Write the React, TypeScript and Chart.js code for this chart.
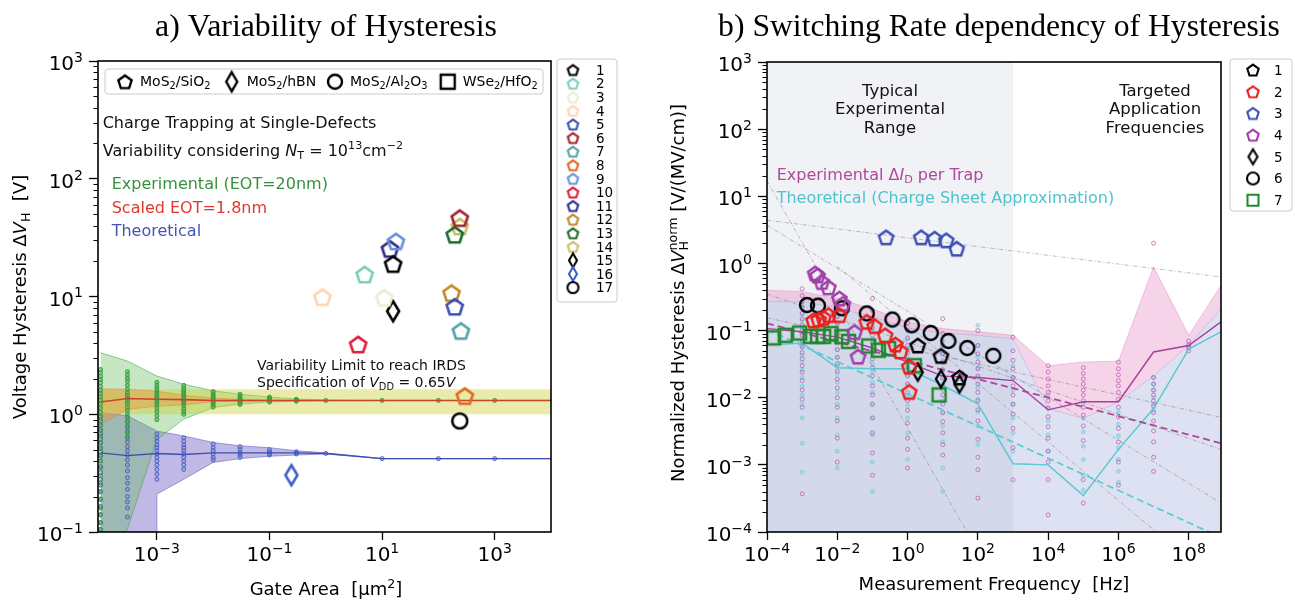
import React, { useEffect, useRef } from 'react';
import { Chart, registerables } from 'chart.js';

Chart.register(...registerables);

const SANS = '"DejaVu Sans", Verdana, sans-serif';
const SERIF = '"Liberation Serif", "DejaVu Serif", serif';

// ---------------- panel a: hysteresis vs. gate area ----------------
const areaTicks = [1e-3, 1e-1, 10, 1000];
const hystTicks = [0.1, 1, 10, 100, 1000];

const gateAreas = [1e-4, 3e-4, 1e-3, 3e-3, 1e-2, 3e-2, 1e-1, 3e-1, 1, 10, 100, 1000, 1e4];
const expUpperA = [3.33, 2.83, 2.11, 1.8, 1.58, 1.48, 1.4, 1.35, 1.32, 1.31, 1.31, 1.31, 1.31];
const expLowerA = [0.05, 0.106, 0.61, 0.91, 1.14, 1.22, 1.27, 1.29, 1.3, 1.31, 1.31, 1.31, 1.31];
const scaledMedian = [1.27, 1.36, 1.34, 1.33, 1.31, 1.31, 1.31, 1.31, 1.31, 1.31, 1.31, 1.31, 1.31];
const scaledUpper = [1.65, 1.63, 1.57, 1.45, 1.37, 1.34, 1.32, 1.31, 1.31, 1.31, 1.31, 1.31, 1.31];
const scaledLower = [0.82, 1.1, 1.17, 1.2, 1.28, 1.29, 1.3, 1.31, 1.31, 1.31, 1.31, 1.31, 1.31];
const theoMedianA = [0.47, 0.445, 0.464, 0.455, 0.47, 0.47, 0.47, 0.47, 0.464, 0.42, 0.42, 0.42, 0.42];
const theoUpperA = [1.03, 0.97, 0.72, 0.655, 0.575, 0.54, 0.52, 0.49, 0.47, 0.42, 0.42, 0.42, 0.42];
// the lower theoretical edge leaves the axis below 1e-3 µm²
const theoLowerAreas = [1e-4, 3e-4, 1e-3, 1e-3, 3e-3, 1e-2, 3e-2, 1e-1, 3e-1, 1, 10, 100, 1000, 1e4];
const theoLowerA = [0.01, 0.01, 0.01, 0.21, 0.28, 0.39, 0.42, 0.44, 0.45, 0.46, 0.42, 0.42, 0.42, 0.42];
// IRDS variability limit (V_DD = 0.65 V)
const irdsAreas = [9e-5, 1e4];
const irdsLow = [1.0, 1.0];
const irdsHigh = [1.63, 1.63];

const dotAreas = [1e-4, 3e-4, 1e-3, 3e-3, 1e-2, 3e-2, 1e-1, 3e-1, 1, 10, 100, 1000];
const expDotsA = [
  [2.4, 2.25, 2.1, 1.97, 1.85, 1.72, 1.6, 1.5, 1.41, 1.32, 1.22, 1.13, 1.04, 0.96, 0.88, 0.8, 0.72, 0.65, 0.58, 0.51, 0.45, 0.4, 0.35, 0.3, 0.26, 0.22, 0.19, 0.16, 0.14, 0.12, 0.105],
  [2.3, 2.15, 2.02, 1.9, 1.76, 1.63, 1.52, 1.44, 1.37, 1.3, 1.23, 1.15, 1.08, 1.01, 0.94, 0.87, 0.8, 0.72, 0.65],
  [1.87, 1.76, 1.67, 1.58, 1.51, 1.44, 1.38, 1.32, 1.26, 1.2, 1.13, 1.05, 0.97, 0.9],
  [1.76, 1.66, 1.58, 1.51, 1.45, 1.39, 1.34, 1.29, 1.24, 1.18, 1.11, 1.05, 1.0],
  [1.56, 1.49, 1.43, 1.38, 1.33, 1.29, 1.25, 1.2, 1.15],
  [1.48, 1.42, 1.37, 1.33, 1.29, 1.25, 1.21],
  [1.4, 1.36, 1.33, 1.3, 1.27],
  [1.34, 1.31, 1.29],
  [1.31], [1.31], [1.31], [1.31],
];
const theoDotsA = [
  [0.95, 0.88, 0.81, 0.74, 0.68, 0.62, 0.57, 0.52, 0.48, 0.44, 0.4, 0.36, 0.32, 0.28, 0.25, 0.22, 0.19, 0.165, 0.14, 0.12, 0.105],
  [0.95, 0.86, 0.78, 0.7, 0.63, 0.58, 0.53, 0.49, 0.45, 0.41, 0.37, 0.33, 0.29, 0.26, 0.23, 0.2, 0.18, 0.16, 0.134],
  [0.68, 0.63, 0.59, 0.55, 0.52, 0.49, 0.46, 0.43, 0.4, 0.37, 0.34, 0.31, 0.28],
  [0.63, 0.59, 0.55, 0.52, 0.49, 0.46, 0.43, 0.4, 0.37, 0.34],
  [0.56, 0.52, 0.49, 0.46, 0.43, 0.41],
  [0.53, 0.5, 0.47, 0.45, 0.43],
  [0.5, 0.48, 0.46, 0.45],
  [0.48, 0.47, 0.46],
  [0.465], [0.42], [0.42], [0.42],
];

// single-device measurements (legend 1..17)
const devLabels = ['1', '2', '3', '4', '5', '6', '7', '8', '9', '10', '11', '12', '13', '14', '15', '16', '17'];
const devArea = [15.7, 4.9, 10.9, 0.87, 195, 240, 251, 295, 17.6, 3.76, 13.8, 171, 195, 240, 15.7, 0.245, 240];
const devHyst = [18.9, 15.4, 9.75, 9.9, 8.2, 46.4, 5.1, 1.43, 29.4, 3.92, 25.4, 10.7, 33.5, 39.4, 7.5, 0.304, 0.877];
const devColors = ['#000000', '#7fcdbb', '#ecedcf', '#fdd5b0', '#3a4fb4', '#a3202a', '#4fa2a6', '#e0671f', '#6b8fdc', '#e31b3d', '#2a2a86', '#c0882b', '#1c6b2b', '#c9bd69', '#000000', '#3f5fc4', '#000000'];
const devShapes = ['pentagon', 'pentagon', 'pentagon', 'pentagon', 'pentagon', 'pentagon', 'pentagon', 'pentagon', 'pentagon', 'pentagon', 'pentagon', 'pentagon', 'pentagon', 'pentagon', 'diamond', 'diamond', 'circle'];
const stackNames = ['MoS|2|/SiO|2', 'MoS|2|/hBN', 'MoS|2|/Al|2|O|3', 'WSe|2|/HfO|2'];
const stackShapes = ['pentagon', 'diamond', 'circle', 'square'];

// ---------------- panel b: hysteresis vs. sweep frequency ----------------
const freqTicks = [1e-4, 1e-2, 1, 100, 1e4, 1e6, 1e8];
const normTicks = [1e-4, 1e-3, 1e-2, 1e-1, 1, 10, 100, 1000];
const typicalRange = [1e-4, 1e3];

const freqGrid = [1e-4, 1e-3, 1e-2, 1e-1, 1, 10, 100, 1e3, 1e4, 1e5, 1e6, 1e7, 1e8, 8.3e8];
const expMedianB = [0.107, 0.096, 0.08, 0.055, 0.034, 0.021, 0.02, 0.018, 0.0066, 0.0087, 0.0087, 0.048, 0.06, 0.135];
const theoMedianB = [0.061, 0.065, 0.028, 0.027, 0.027, 0.0153, 0.0081, 0.00104, 0.001, 0.00035, 0.0017, 0.0069, 0.053, 0.096];
const expUpperB = [0.4, 0.38, 0.3, 0.21, 0.135, 0.107, 0.096, 0.085, 0.03, 0.034, 0.035, 0.89, 0.085, 0.47];
const theoUpperB = [0.27, 0.27, 0.22, 0.16, 0.11, 0.092, 0.085, 0.075, 0.0069, 0.0049, 0.0087, 0.021, 0.06, 0.21];
const expTrendF = [1e-4, 8.3e8];
const expTrendV = [0.128, 0.0021];
const theoTrendF = [1e-4, 8.3e8];
const theoTrendV = [0.104, 0.000083];
// per-device power-law fits [f0, v0, f1, v1]
const fitLines = [
  [1e-4, 17, 49, 1e-4],
  [1e-4, 3.7, 8.3e8, 0.00027],
  [1e-4, 4.4, 8.3e8, 0.63],
  [1e-4, 0.155, 8.3e8, 0.0051],
  [1e-4, 0.35, 8.3e8, 0.0017],
  [1e-2, 0.9, 1.2e7, 1e-4],
];

const dotFreqs = [1e-3, 1e-2, 1e-1, 1, 10, 100, 1e3, 1e4, 1e5, 1e6, 1e7, 1e8];
const expDotsB = [
  [0.42, 0.33, 0.27, 0.22, 0.18, 0.15, 0.12, 0.1, 0.085, 0.07, 0.058, 0.047, 0.038, 0.03, 0.024, 0.018, 0.013, 0.0095, 0.0072, 0.00037],
  [0.2, 0.16, 0.13, 0.1, 0.082, 0.066, 0.052, 0.04, 0.032, 0.025, 0.019, 0.014, 0.01, 0.0072, 0.0045, 0.0025, 0.0011],
  [0.3, 0.2, 0.15, 0.11, 0.085, 0.065, 0.05, 0.038, 0.028, 0.021, 0.015, 0.011, 0.008, 0.005, 0.003, 0.0015, 0.0007],
  [0.13, 0.1, 0.078, 0.06, 0.047, 0.036, 0.028, 0.021, 0.016, 0.012, 0.009, 0.0065, 0.0042, 0.0025, 0.0017, 0.0009],
  [0.15, 0.09, 0.06, 0.045, 0.034, 0.026, 0.02, 0.015, 0.011, 0.008, 0.006, 0.0044, 0.003, 0.002, 0.0014],
  [0.1, 0.06, 0.045, 0.034, 0.027, 0.021, 0.016, 0.012, 0.009, 0.0066, 0.0045, 0.0024, 0.0013, 0.00085, 0.00032],
  [0.08, 0.05, 0.036, 0.027, 0.02, 0.015, 0.011, 0.008, 0.0057, 0.0035, 0.0018, 0.0006],
  [0.03, 0.024, 0.019, 0.015, 0.012, 0.009, 0.007, 0.0052, 0.0037, 0.0025, 0.0016, 0.0011, 0.0006, 0.00018],
  [0.028, 0.023, 0.019, 0.016, 0.013, 0.011, 0.009, 0.0072, 0.0055, 0.0038, 0.0023, 0.0006, 0.00027],
  [0.034, 0.027, 0.022, 0.018, 0.015, 0.012, 0.0095, 0.0072, 0.0052, 0.0035, 0.0022, 0.0011, 0.0005],
  [2.0, 0.02, 0.016, 0.013, 0.011, 0.009, 0.0075, 0.006, 0.0045, 0.0032, 0.0022, 0.0013, 0.0008],
  [0.07, 0.062, 0.056, 0.05],
];
const theoDotsB = [
  [0.24, 0.18, 0.14, 0.11, 0.088, 0.07, 0.055, 0.043, 0.034, 0.026, 0.02, 0.015, 0.011, 0.008, 0.005, 0.0021, 0.00078],
  [0.17, 0.12, 0.09, 0.068, 0.052, 0.04, 0.03, 0.023, 0.017, 0.012, 0.008, 0.005, 0.0028, 0.0016, 0.0009],
  [0.14, 0.1, 0.075, 0.056, 0.042, 0.032, 0.024, 0.017, 0.012, 0.008, 0.005, 0.0028, 0.0011, 0.0004],
  [0.1, 0.075, 0.055, 0.041, 0.03, 0.022, 0.016, 0.011, 0.0075, 0.005, 0.003, 0.0012],
  [0.07, 0.05, 0.036, 0.026, 0.019, 0.013, 0.009, 0.006, 0.0038, 0.0022, 0.0009, 0.0004],
  [0.12, 0.06, 0.04, 0.028, 0.02, 0.014, 0.0095, 0.0062, 0.0038, 0.002],
  [0.03, 0.02, 0.013, 0.008, 0.005, 0.003, 0.0016],
  [0.011, 0.007, 0.0045, 0.0028, 0.0016],
  [0.008, 0.005, 0.0031, 0.0019, 0.0012, 0.0007, 0.00042],
  [0.006, 0.004, 0.0027, 0.0018, 0.0012, 0.0008, 0.00055],
  [0.02, 0.016, 0.013, 0.01, 0.008, 0.0065],
  [0.06, 0.055],
];

// measured devices (legend 1..7)
const rateLabels = ['1', '2', '3', '4', '5', '6', '7'];
const rateColors = ['#000000', '#e8211c', '#3a4fb4', '#a03fa8', '#000000', '#000000', '#22882e'];
const rateShapes = ['pentagon', 'pentagon', 'pentagon', 'pentagon', 'diamond', 'circle', 'square'];
const rateFreq = [
  [1.95, 8.9, 30],
  [0.00211, 0.00295, 0.00407, 0.0056, 0.0115, 0.069, 0.115, 0.23, 0.45, 0.62, 1.12, 1.12],
  [0.245, 2.45, 5.9, 12.6, 25],
  [0.00234, 0.00275, 0.00363, 0.0056, 0.0115, 0.0145, 0.031, 0.039],
  [1.95, 8.9, 30],
  [0.00138, 0.00282, 0.0135, 0.069, 0.37, 1.32, 4.57, 14.5, 50, 275],
  [0.000155, 0.00033, 0.00085, 0.0017, 0.00275, 0.0041, 0.0066, 0.0135, 0.021, 0.078, 0.148, 0.29, 1.55, 7.9],
];
const rateHyst = [
  [0.06, 0.042, 0.02],
  [0.142, 0.146, 0.155, 0.17, 0.17, 0.135, 0.117, 0.085, 0.062, 0.049, 0.029, 0.0122],
  [2.45, 2.45, 2.34, 2.21, 1.66],
  [0.71, 0.66, 0.53, 0.44, 0.3, 0.25, 0.095, 0.041],
  [0.024, 0.019, 0.016],
  [0.24, 0.235, 0.215, 0.18, 0.146, 0.12, 0.092, 0.07, 0.055, 0.042],
  [0.078, 0.085, 0.092, 0.082, 0.082, 0.082, 0.09, 0.081, 0.069, 0.059, 0.051, 0.054, 0.03, 0.011],
];

// ---------------- helpers ----------------
const pts = (xs: number[], ys: number[]) => xs.map((x, i) => ({ x, y: ys[i] }));
const columns = (xs: number[], cols: number[][]) => xs.flatMap((x, i) => cols[i].map((y) => ({ x, y })));

function markerImage(shape: string, color: string, size: number, lw: number): HTMLCanvasElement {
  const pad = Math.ceil(lw) + 1;
  const w = shape === 'diamond' ? Math.round(size * 0.58) : size;
  const h = size;
  const c = document.createElement('canvas');
  c.width = w + pad * 2;
  c.height = h + pad * 2;
  const g = c.getContext('2d') as CanvasRenderingContext2D;
  g.strokeStyle = color;
  g.lineWidth = lw;
  g.lineJoin = 'miter';
  const cx = c.width / 2;
  const cy = c.height / 2;
  g.beginPath();
  if (shape === 'pentagon') {
    const R = size / 2;
    for (let i = 0; i < 5; i++) {
      const a = -Math.PI / 2 + (i * 2 * Math.PI) / 5;
      const px = cx + R * Math.cos(a);
      const py = cy + R * Math.sin(a) + R * 0.1;
      if (i) g.lineTo(px, py);
      else g.moveTo(px, py);
    }
    g.closePath();
  } else if (shape === 'diamond') {
    g.moveTo(cx, cy - h / 2);
    g.lineTo(cx + w / 2, cy);
    g.lineTo(cx, cy + h / 2);
    g.lineTo(cx - w / 2, cy);
    g.closePath();
  } else if (shape === 'circle') {
    g.arc(cx, cy, size / 2, 0, Math.PI * 2);
  } else {
    g.rect(cx - size / 2, cy - size / 2, size, size);
  }
  g.stroke();
  return c;
}

type Seg = { t?: string; it?: boolean; sub?: string; sup?: string };

const fontOf = (size: number, italic: boolean, family: string) => `${italic ? 'italic ' : ''}${size}px ${family}`;

function segWidth(ctx: CanvasRenderingContext2D, s: Seg, size: number, family: string) {
  let w = 0;
  if (s.t) {
    ctx.font = fontOf(size, !!s.it, family);
    w += ctx.measureText(s.t).width;
  }
  ctx.font = fontOf(size * 0.7, false, family);
  const a = s.sub ? ctx.measureText(s.sub).width : 0;
  const b = s.sup ? ctx.measureText(s.sup).width : 0;
  return w + Math.max(a, b);
}

function drawRich(ctx: CanvasRenderingContext2D, segs: Seg[], x: number, cy: number, size: number, color: string, align = 'left', family = SANS) {
  const total = segs.reduce((acc, s) => acc + segWidth(ctx, s, size, family), 0);
  let cx = align === 'center' ? x - total / 2 : align === 'right' ? x - total : x;
  const base = cy + size * 0.36;
  ctx.fillStyle = color;
  ctx.textAlign = 'left';
  ctx.textBaseline = 'alphabetic';
  for (const s of segs) {
    if (s.t) {
      ctx.font = fontOf(size, !!s.it, family);
      ctx.fillText(s.t, cx, base);
      cx += ctx.measureText(s.t).width;
    }
    ctx.font = fontOf(size * 0.7, false, family);
    let adv = 0;
    if (s.sub) {
      ctx.fillText(s.sub, cx, base + size * 0.22);
      adv = ctx.measureText(s.sub).width;
    }
    if (s.sup) {
      ctx.fillText(s.sup, cx, base - size * 0.42);
      adv = Math.max(adv, ctx.measureText(s.sup).width);
    }
    cx += adv;
  }
}

// "MoS|2|/SiO|2" -> alternating normal / subscript pieces
function chemSegs(name: string): Seg[] {
  const parts = name.split('|');
  const segs: Seg[] = [];
  for (let i = 0; i < parts.length; i += 2) segs.push({ t: parts[i], sub: parts[i + 1] });
  return segs;
}

// decade label "10^n" with a proper minus sign
const powSegs = (v: number): Seg[] => {
  const e = Math.round(Math.log10(v));
  return [{ t: '10', sup: e < 0 ? '−' + String(-e) : String(e) }];
};

function tickLabelsY(ctx: CanvasRenderingContext2D, scale: any, vals: number[], xRight: number) {
  vals.forEach((v) => drawRich(ctx, powSegs(v), xRight, scale.getPixelForValue(v) + 2, 20, '#000', 'right'));
}

function tickLabelsX(ctx: CanvasRenderingContext2D, scale: any, vals: number[], cy: number) {
  vals.forEach((v) => drawRich(ctx, powSegs(v), scale.getPixelForValue(v), cy, 20, '#000', 'center'));
}

function drawTitle(ctx: CanvasRenderingContext2D, text: string, cx: number, cy: number, width: number) {
  ctx.font = `30px ${SERIF}`;
  const size = (30 * width) / ctx.measureText(text).width;
  ctx.font = `${size}px ${SERIF}`;
  ctx.fillStyle = '#000';
  ctx.textAlign = 'center';
  ctx.textBaseline = 'middle';
  ctx.fillText(text, cx, cy);
}

function drawFrame(ctx: CanvasRenderingContext2D, a: any) {
  ctx.strokeStyle = '#000';
  ctx.lineWidth = 1.6;
  ctx.strokeRect(a.left, a.top, a.right - a.left, a.bottom - a.top);
}

function minorTicks(ctx: CanvasRenderingContext2D, scale: any, x0: number, len: number) {
  const lo = Math.floor(Math.log10(scale.min));
  const hi = Math.ceil(Math.log10(scale.max));
  ctx.beginPath();
  for (let e = lo; e < hi; e++) {
    for (let k = 2; k <= 9; k++) {
      const v = k * Math.pow(10, e);
      if (v <= scale.min || v >= scale.max) continue;
      const y = Math.round(scale.getPixelForValue(v)) + 0.5;
      ctx.moveTo(x0, y);
      ctx.lineTo(x0 - len, y);
    }
  }
  ctx.strokeStyle = '#000';
  ctx.lineWidth = 1;
  ctx.stroke();
}

function legendBox(ctx: CanvasRenderingContext2D, x: number, y: number, w: number, h: number) {
  ctx.beginPath();
  (ctx as any).roundRect(x, y, w, h, 3);
  ctx.fillStyle = 'rgba(255,255,255,0.85)';
  ctx.fill();
  ctx.strokeStyle = '#cccccc';
  ctx.lineWidth = 1;
  ctx.stroke();
}

function logAxis(min: number, max: number, tickVals: number[], fit: (s: any) => void, tickLen: number) {
  return {
    type: 'logarithmic',
    min,
    max,
    afterBuildTicks: (s: any) => {
      s.ticks = tickVals.map((value) => ({ value }));
    },
    afterFit: fit,
    ticks: { display: false, autoSkip: false },
    grid: { drawOnChartArea: false, tickLength: tickLen, tickWidth: 1.3, tickColor: '#000', color: '#000' },
    border: { display: false },
  };
}

const lineDs = (data: any[], color: string, width: number, order: number, extra: any = {}) => ({
  data,
  borderColor: color,
  backgroundColor: color,
  borderWidth: width,
  pointRadius: 0,
  fill: false,
  tension: 0,
  order,
  ...extra,
});

const dotDs = (data: any[], border: string, bg: string, order: number) => ({
  data,
  showLine: false,
  pointRadius: 2,
  pointBorderWidth: 1,
  pointBorderColor: border,
  pointBackgroundColor: bg,
  borderColor: border,
  backgroundColor: bg,
  order,
});

const markerDs = (data: any[], img: HTMLCanvasElement, order: number) => ({
  data,
  showLine: false,
  pointStyle: img,
  pointRadius: 8,
  order,
});

const baseOptions = (scales: any, padding: any) => ({
  responsive: false,
  devicePixelRatio: 1,
  animation: false,
  events: [],
  layout: { padding },
  plugins: { legend: { display: false }, tooltip: { enabled: false }, title: { display: false } },
  scales,
});

// ---------------- panel a ----------------
function buildA(): any {
  const markers = devShapes.map((s, i) => markerImage(s, devColors[i], s === 'diamond' ? 20 : s === 'circle' ? 15 : 17, 2.6));
  const legendMarks = devShapes.map((s, i) => markerImage(s, devColors[i], s === 'diamond' ? 14 : 11, 2.1));
  const stackMarks = stackShapes.map((s) => markerImage(s, '#000', s === 'diamond' ? 19 : 14, 2.4));

  const datasets: any[] = [];
  devArea.forEach((x, i) => datasets.push(markerDs([{ x, y: devHyst[i] }], markers[i], 0)));
  datasets.push(lineDs(pts(gateAreas, scaledMedian), '#c9452a', 1.6, 1));
  datasets.push(lineDs(pts(gateAreas, theoMedianA), '#3d4fb2', 1.4, 1));
  datasets.push(dotDs(columns(dotAreas, expDotsA), '#379a3c', 'rgba(70,170,80,0.55)', 2));
  datasets.push(dotDs(columns(dotAreas, theoDotsA), '#4b5fc2', 'rgba(90,110,200,0.25)', 2));
  // scaled EOT spread
  datasets.push(lineDs(pts(gateAreas, scaledLower), 'rgba(230,120,40,0.4)', 1, 3));
  datasets.push(lineDs(pts(gateAreas, scaledUpper), 'rgba(230,120,40,0.4)', 1, 3, { fill: '-1', backgroundColor: 'rgba(240,135,45,0.36)' }));
  // IRDS limit
  datasets.push(lineDs(pts(irdsAreas, irdsLow), 'rgba(0,0,0,0)', 0, 4));
  datasets.push(lineDs(pts(irdsAreas, irdsHigh), 'rgba(0,0,0,0)', 0, 4, { fill: '-1', backgroundColor: 'rgba(200,208,50,0.42)' }));
  // experimental spread
  datasets.push(lineDs(pts(gateAreas, expLowerA), 'rgba(60,165,60,0.55)', 1, 5));
  datasets.push(lineDs(pts(gateAreas, expUpperA), 'rgba(60,165,60,0.55)', 1, 5, { fill: '-1', backgroundColor: 'rgba(90,185,80,0.34)' }));
  // theoretical spread
  datasets.push(lineDs(pts(theoLowerAreas, theoLowerA), 'rgba(95,85,195,0.55)', 1, 6));
  datasets.push(lineDs(pts(gateAreas, theoUpperA), 'rgba(95,85,195,0.55)', 1, 6, { fill: '-1', backgroundColor: 'rgba(115,100,200,0.45)' }));

  const decor = {
    id: 'decorA',
    afterDraw(chart: any) {
      const { ctx, chartArea: a, scales } = chart;
      ctx.save();
      drawFrame(ctx, a);
      minorTicks(ctx, scales.y, a.left, 4.5);
      tickLabelsY(ctx, scales.y, hystTicks, a.left - 15);
      tickLabelsX(ctx, scales.x, areaTicks, a.bottom + 22);
      drawTitle(ctx, 'a) Variability of Hysteresis', 326, 28, 342);

      ctx.save();
      ctx.translate(20, 297);
      ctx.rotate(-Math.PI / 2);
      drawRich(ctx, [{ t: 'Voltage Hysteresis Δ' }, { t: 'V', it: true, sub: 'H' }, { t: '  [V]' }], 0, 0, 18, '#000', 'center');
      ctx.restore();
      drawRich(ctx, [{ t: 'Gate Area  [μm', sup: '2' }, { t: ']' }], 326, 589, 18, '#000', 'center');

      // material legend
      legendBox(ctx, 105, 69, 438, 25);
      const sx = [125, 231.7, 335, 447.7];
      stackNames.forEach((n, i) => {
        const m = stackMarks[i];
        ctx.drawImage(m, sx[i] - m.width / 2, 81.7 - m.height / 2);
        drawRich(ctx, chemSegs(n), sx[i] + 15, 81.2, 14, '#000');
      });

      drawRich(ctx, [{ t: 'Charge Trapping at Single-Defects' }], 102.7, 122, 16, '#111');
      drawRich(ctx, [{ t: 'Variability considering ' }, { t: 'N', it: true, sub: 'T' }, { t: ' = 10', sup: '13' }, { t: 'cm', sup: '−2' }], 102.7, 150, 16, '#111');
      drawRich(ctx, [{ t: 'Experimental (EOT=20nm)' }], 111.7, 183, 16, '#36923c');
      drawRich(ctx, [{ t: 'Scaled EOT=1.8nm' }], 111.7, 207, 16, '#e2372b');
      drawRich(ctx, [{ t: 'Theoretical' }], 111.7, 230, 16, '#4753b2');
      drawRich(ctx, [{ t: 'Variability Limit to reach IRDS' }], 257, 365, 14, '#111');
      drawRich(ctx, [{ t: 'Specification of ' }, { t: 'V', it: true, sub: 'DD' }, { t: ' = 0.65' }, { t: 'V', it: true }], 257, 382, 14, '#111');

      // device legend
      legendBox(ctx, 557, 59, 60, 243);
      devLabels.forEach((lab, i) => {
        const y = 70 + i * 13.6;
        const m = legendMarks[i];
        ctx.drawImage(m, 573 - m.width / 2, y - m.height / 2);
        drawRich(ctx, [{ t: lab }], 596, y, 13.5, '#000');
      });
      ctx.restore();
    },
  };

  return {
    type: 'line',
    data: { datasets },
    options: baseOptions(
      {
        x: logAxis(9e-5, 1e4, areaTicks, (s: any) => { s.height = 74; }, 8),
        y: logAxis(0.1, 1000, hystTicks, (s: any) => { s.width = 98; }, 9),
      },
      { left: 0, right: 89, top: 61, bottom: 0 },
    ),
    plugins: [decor],
  };
}

// ---------------- panel b ----------------
function buildB(): any {
  const markers = rateShapes.map((s, i) =>
    markerImage(s, rateColors[i], s === 'diamond' ? 17 : s === 'circle' ? 14 : s === 'square' ? 13 : 15, 2.4),
  );
  const legendMarks = rateShapes.map((s, i) => markerImage(s, rateColors[i], s === 'diamond' ? 15 : s === 'square' ? 11 : 12, 2.1));

  const datasets: any[] = [];
  rateFreq.forEach((xs, i) => datasets.push(markerDs(pts(xs, rateHyst[i]), markers[i], 0)));
  fitLines.forEach((l) =>
    datasets.push(lineDs([{ x: l[0], y: l[1] }, { x: l[2], y: l[3] }], 'rgba(90,90,90,0.5)', 0.8, 1, { borderDash: [4, 2, 1, 2] })),
  );
  datasets.push(lineDs(pts(expTrendF, expTrendV), '#b0479d', 1.8, 1, { borderDash: [7, 4] }));
  datasets.push(lineDs(pts(theoTrendF, theoTrendV), '#5ccbd6', 1.8, 1, { borderDash: [7, 4] }));
  datasets.push(lineDs(pts(freqGrid, expMedianB), '#a8409a', 1.4, 1));
  datasets.push(lineDs(pts(freqGrid, theoMedianB), '#56c8d3', 1.4, 1));
  datasets.push(dotDs(columns(dotFreqs, expDotsB), 'rgba(190,80,170,0.7)', 'rgba(0,0,0,0)', 2));
  datasets.push(dotDs(columns(dotFreqs, theoDotsB), 'rgba(100,200,215,0.55)', 'rgba(120,210,225,0.45)', 2));
  // theoretical spread (from the bottom) and experimental spread above it
  const theoIdx = datasets.length;
  datasets.push(lineDs(pts(freqGrid, theoUpperB), 'rgba(125,138,200,0.3)', 1, 4, { fill: 'start', backgroundColor: 'rgba(125,138,200,0.26)' }));
  datasets.push(
    lineDs(pts(freqGrid, expUpperB), 'rgba(222,110,180,0.35)', 1, 3, { fill: { target: theoIdx }, backgroundColor: 'rgba(222,110,180,0.3)' }),
  );
  // typical experimental frequency range
  datasets.push(
    lineDs([{ x: typicalRange[0], y: 1000 }, { x: typicalRange[1], y: 1000 }], 'rgba(0,0,0,0)', 0, 5, {
      fill: 'start',
      backgroundColor: 'rgba(205,210,222,0.28)',
    }),
  );

  const L = (gx: number) => gx - 640;
  const decor = {
    id: 'decorB',
    afterDraw(chart: any) {
      const { ctx, chartArea: a, scales } = chart;
      ctx.save();
      drawFrame(ctx, a);
      minorTicks(ctx, scales.y, a.left, 4.5);
      tickLabelsY(ctx, scales.y, normTicks, a.left - 15);
      tickLabelsX(ctx, scales.x, freqTicks, a.bottom + 22);
      drawTitle(ctx, 'b) Switching Rate dependency of Hysteresis', L(999), 28, 562);

      ctx.save();
      ctx.translate(L(678), 293);
      ctx.rotate(-Math.PI / 2);
      drawRich(ctx, [{ t: 'Normalized Hysteresis Δ' }, { t: 'V', it: true, sub: 'H', sup: 'norm' }, { t: ' [V/(MV/cm)]' }], 0, 0, 18, '#000', 'center');
      ctx.restore();
      drawRich(ctx, [{ t: 'Measurement Frequency  [Hz]' }], L(994), 584, 18, '#000', 'center');

      ['Typical', 'Experimental', 'Range'].forEach((t, i) => drawRich(ctx, [{ t }], L(890), 90 + i * 18.5, 16.5, '#111', 'center'));
      ['Targeted', 'Application', 'Frequencies'].forEach((t, i) => drawRich(ctx, [{ t }], L(1155), 90 + i * 18.5, 16.5, '#111', 'center'));
      drawRich(ctx, [{ t: 'Experimental Δ' }, { t: 'I', it: true, sub: 'D' }, { t: ' per Trap' }], L(776.7), 174, 16, '#b2479c');
      drawRich(ctx, [{ t: 'Theoretical (Charge Sheet Approximation)' }], L(776.7), 197.7, 16, '#4ec3cc');

      legendBox(ctx, L(1230), 59, 62, 152);
      rateLabels.forEach((lab, i) => {
        const y = 70 + i * 21.7;
        const m = legendMarks[i];
        ctx.drawImage(m, L(1253) - m.width / 2, y - m.height / 2);
        drawRich(ctx, [{ t: lab }], L(1274), y, 13.5, '#000');
      });
      ctx.restore();
    },
  };

  return {
    type: 'line',
    data: { datasets },
    options: baseOptions(
      {
        x: logAxis(1e-4, 8.3e8, freqTicks, (s: any) => { s.height = 74; }, 8),
        y: logAxis(1e-4, 1000, normTicks, (s: any) => { s.width = 127; }, 9),
      },
      { left: 0, right: 74, top: 62, bottom: 0 },
    ),
    plugins: [decor],
  };
}

export default function App() {
  const refA = useRef<HTMLCanvasElement>(null);
  const refB = useRef<HTMLCanvasElement>(null);

  useEffect(() => {
    const ca = new Chart(refA.current as HTMLCanvasElement, buildA());
    const cb = new Chart(refB.current as HTMLCanvasElement, buildB());
    return () => {
      ca.destroy();
      cb.destroy();
    };
  }, []);

  return (
    <div style={{ position: 'fixed', left: 0, top: 0, width: 1295, height: 606, background: '#fff' }}>
      <canvas ref={refA} width={640} height={606} style={{ position: 'absolute', left: 0, top: 0 }} />
      <canvas ref={refB} width={655} height={606} style={{ position: 'absolute', left: 640, top: 0 }} />
    </div>
  );
}
